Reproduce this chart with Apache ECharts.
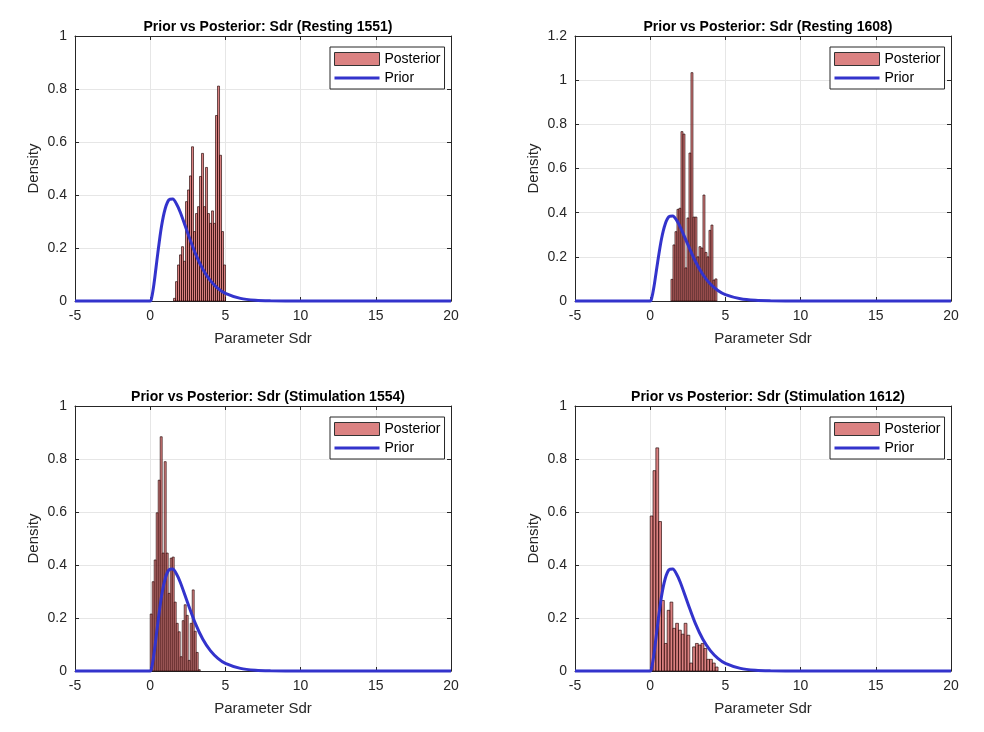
<!DOCTYPE html>
<html>
<head>
<meta charset="utf-8">
<script src="https://cdn.jsdelivr.net/npm/echarts@6/dist/echarts.min.js"></script>
<style>
    html, body { margin: 0; padding: 0; background: #fff; }
    #chart { width: 984px; height: 732px; }
</style>
</head>
<body>
<div id="chart"></div>
<script>
    // panel titles
    var titles = [
        'Prior vs Posterior: Sdr (Resting 1551)',
        'Prior vs Posterior: Sdr (Resting 1608)',
        'Prior vs Posterior: Sdr (Stimulation 1554)',
        'Prior vs Posterior: Sdr (Stimulation 1612)'
    ];
    var yMaxes = [1, 1.2, 1, 1];

    // posterior histograms: first bin edge, bin width, densities
    var binStarts = [1.55, 1.38, 0, 0];
    var binWidths = [0.133, 0.133, 0.133, 0.188];
    var postResting1551 = [0.01, 0.073, 0.136, 0.174, 0.205, 0.15, 0.375, 0.419, 0.472, 0.582, 0.262, 0.33, 0.356,
        0.47, 0.557, 0.356, 0.504, 0.33, 0.293, 0.34, 0.293, 0.70, 0.811, 0.55, 0.262, 0.136];
    var postResting1608 = [0.098, 0.254, 0.314, 0.415, 0.42, 0.767, 0.756, 0.15, 0.376, 0.67, 1.034, 0.38, 0.38,
        0.2, 0.246, 0.24, 0.48, 0.22, 0.2, 0.32, 0.344, 0.095, 0.1];
    var postStim1554 = [0.215, 0.337, 0.419, 0.597, 0.72, 0.884, 0.445, 0.79, 0.445, 0.293, 0.426, 0.43, 0.26,
        0.18, 0.148, 0.054, 0.19, 0.25, 0.21, 0.04, 0.18, 0.306, 0.15, 0.07, 0.005];
    var postStim1612 = [0.585, 0.756, 0.842, 0.564, 0.266, 0.104, 0.229, 0.26, 0.161, 0.18, 0.154, 0.139, 0.18,
        0.135, 0.03, 0.091, 0.104, 0.098, 0.104, 0.085, 0.044, 0.044, 0.03, 0.015];
    var posteriors = [postResting1551, postResting1608, postStim1554, postStim1612];

    // prior density curve (same in every panel)
    var priorX = [-5, 0, 0.1, 0.25, 0.5, 0.75, 1, 1.25, 1.5, 1.75, 2, 2.5, 3, 3.5, 4, 4.5, 5, 6, 7, 8, 10, 20];
    var priorY = [0, 0, 0.013, 0.064, 0.178, 0.281, 0.349, 0.382, 0.385, 0.366, 0.335, 0.256, 0.18, 0.12,
        0.077, 0.048, 0.029, 0.01, 0.003, 0.001, 0, 0];

    // layout
    var gridLefts = [75, 575, 75, 575];
    var gridTops = [36, 36, 406, 406];
    var gridW = 376, gridH = 265;
    var font = "'Liberation Sans', Arial, Helvetica, sans-serif";
    var ink = '#262626';

    var chart = echarts.init(document.getElementById('chart'));

    var grid = [], xAxis = [], yAxis = [], series = [], title = [], legend = [];
    var priorData = priorX.map(function (x, k) { return [x, priorY[k]]; });

    function boxAxis(extra) {
        // plain axis line + inward ticks, used for all four sides of the box
        var a = {
            type: 'value',
            axisLine: { show: true, onZero: false, lineStyle: { color: ink } },
            axisTick: { show: true, inside: true, length: 4, lineStyle: { color: ink } },
            axisLabel: { show: false },
            splitLine: { show: false }
        };
        for (var k in extra) a[k] = extra[k];
        return a;
    }

    for (var i = 0; i < 4; i++) {
        grid.push({ left: gridLefts[i], top: gridTops[i], width: gridW, height: gridH });
        title.push({
            text: titles[i], left: gridLefts[i] + gridW / 2, top: gridTops[i] - 21, textAlign: 'center',
            textStyle: { fontFamily: font, fontSize: 14, fontWeight: 'bold', color: '#000' }
        });
        xAxis.push(boxAxis({
            gridIndex: i, min: -5, max: 20, interval: 5,
            name: 'Parameter Sdr', nameLocation: 'middle', nameGap: 30,
            nameTextStyle: { fontFamily: font, fontSize: 15, color: ink },
            axisLabel: { show: true, fontFamily: font, fontSize: 14, color: ink, margin: 8 },
            splitLine: { show: true, lineStyle: { color: '#e6e6e6' } }
        }));
        xAxis.push(boxAxis({ gridIndex: i, min: -5, max: 20, interval: 5, position: 'top' }));
        yAxis.push(boxAxis({
            gridIndex: i, min: 0, max: yMaxes[i], interval: 0.2,
            name: 'Density', nameLocation: 'middle', nameGap: 34,
            nameTextStyle: { fontFamily: font, fontSize: 15, color: ink },
            axisLabel: { show: true, fontFamily: font, fontSize: 14, color: ink, margin: 8 },
            splitLine: { show: true, lineStyle: { color: '#e6e6e6' } }
        }));
        yAxis.push(boxAxis({ gridIndex: i, min: 0, max: yMaxes[i], interval: 0.2, position: 'right' }));

        var bins = posteriors[i].map(function (v, k) {
            var x0 = binStarts[i] + k * binWidths[i];
            return [x0, x0 + binWidths[i], v];
        });
        series.push({
            name: 'Posterior', type: 'custom', xAxisIndex: 2 * i, yAxisIndex: 2 * i,
            itemStyle: { color: '#db8282' },
            encode: { x: [0, 1], y: 2 },
            data: bins,
            renderItem: function (params, api) {
                var p0 = api.coord([api.value(0), api.value(2)]);
                var p1 = api.coord([api.value(1), 0]);
                return {
                    type: 'rect',
                    shape: { x: p0[0], y: p0[1], width: p1[0] - p0[0], height: p1[1] - p0[1] },
                    style: { fill: 'rgba(204,77,77,0.7)', stroke: 'rgba(30,0,0,0.8)', lineWidth: 0.8 }
                };
            },
            z: 2
        });
        series.push({
            name: 'Prior', type: 'line', xAxisIndex: 2 * i, yAxisIndex: 2 * i,
            data: priorData, smooth: 0.3, symbol: 'none', clip: false,
            lineStyle: { color: '#3333cc', width: 3 }, itemStyle: { color: '#3333cc' },
            z: 3
        });

        legend.push({
            orient: 'vertical', left: gridLefts[i] + 255, top: gridTops[i] + 11,
            itemWidth: 45, itemHeight: 13, itemGap: 5, itemTextGap: 3,
            padding: [5, 4, 4, 4],
            borderColor: ink, borderWidth: 1, backgroundColor: '#fff',
            textStyle: { fontFamily: font, fontSize: 14, color: '#000' },
            selectedMode: false,
            data: [
                { name: 'Posterior', icon: 'rect', itemStyle: { color: '#db8282', borderColor: '#333', borderWidth: 1 } },
                { name: 'Prior', icon: 'path://M0,0 L45,0 L45,3 L0,3 Z', itemStyle: { color: '#3333cc', borderWidth: 0 } }
            ]
        });
    }

    chart.setOption({
        backgroundColor: '#fff',
        animation: false,
        title: title,
        legend: legend,
        grid: grid,
        xAxis: xAxis,
        yAxis: yAxis,
        series: series
    });
</script>
</body>
</html>
